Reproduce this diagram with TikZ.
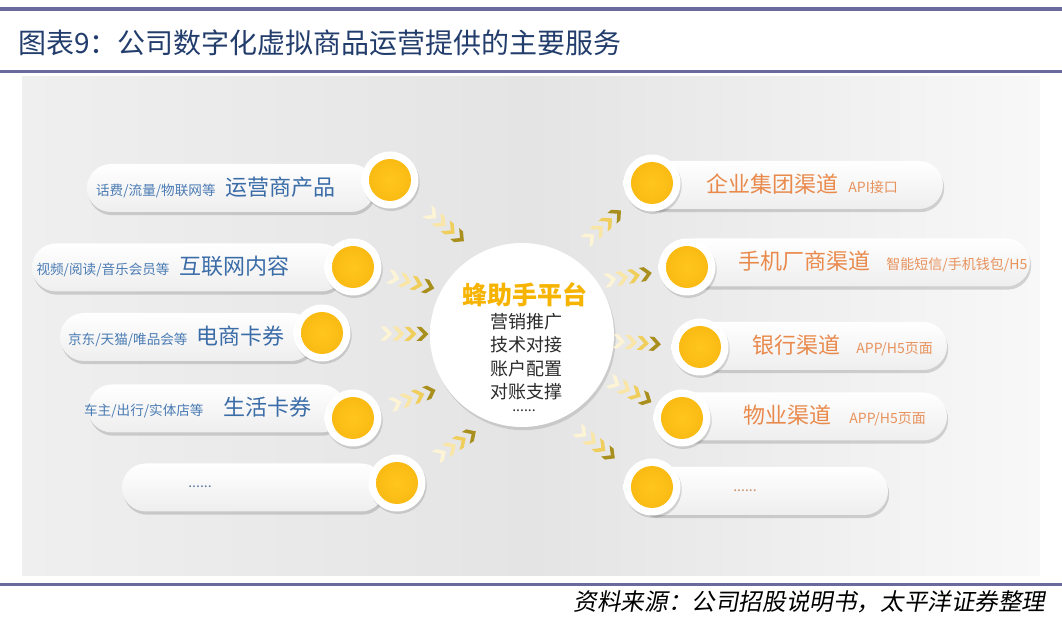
\documentclass[tikz,border=0pt]{standalone}
\usepackage{fontspec}
\setmainfont{Noto Sans CJK SC}
\newfontfamily\srcfont[FakeSlant=0.18]{Noto Sans CJK SC}
\usepackage{xcolor}
\usepackage{tikz}
\usetikzlibrary{shadows,decorations.markings}
\definecolor{rule}{HTML}{6A6A9C}
\definecolor{headblue}{HTML}{223D6C}
\definecolor{panelmid}{HTML}{E4E4E4}
\definecolor{panelleft}{HTML}{EFEFEF}
\definecolor{panelright}{HTML}{F8F8F8}
\definecolor{pillbot}{HTML}{EEEEEE}
\definecolor{ringrim}{HTML}{D6D6D6}
\definecolor{hubrim}{HTML}{D8D8D8}
\definecolor{balltop}{HTML}{FFC61E}
\definecolor{ballrim}{HTML}{F1A800}
\definecolor{leftblue}{HTML}{3A6CA8}
\definecolor{leftsub}{HTML}{4A7BB4}
\definecolor{rightorg}{HTML}{E98A4C}
\definecolor{rightsub}{HTML}{E8925C}
\definecolor{hubgold}{HTML}{F6B400}
\definecolor{hubink}{HTML}{2B2B2B}
\definecolor{chva}{HTML}{FDF4D6}
\definecolor{chvb}{HTML}{F9E6A6}
\definecolor{chvc}{HTML}{F0CE5C}
\definecolor{chvd}{HTML}{A88F1E}
\pgfdeclareradialshading{ringsh}{\pgfpoint{0bp}{0bp}}{color(0bp)=(white); color(36bp)=(white); color(50bp)=(ringrim)}
\pgfdeclareradialshading{hubsh}{\pgfpoint{0bp}{0bp}}{color(0bp)=(white); color(40bp)=(white); color(50bp)=(hubrim)}
\pgfdeclareradialshading{ballsh}{\pgfpoint{0bp}{0bp}}{color(0bp)=(balltop); color(50bp)=(ballrim)}
\newcommand{\ltag}[1]{{\fontsize{6.8pt}{8pt}\selectfont\color{leftsub}#1}}
\newcommand{\rtag}[1]{{\fontsize{7pt}{8pt}\selectfont\color{rightsub}#1}}
\newcommand{\chev}[2]{\fill[#2] ({#1-7},-7) -- (#1,0) -- ({#1-7},7) -- ({#1-12},7) -- ({#1-5},0) -- ({#1-12},-7) -- cycle;}
\newcommand{\chevs}{\chev{-12}{chva}\chev{0}{chvb}\chev{12}{chvc}\chev{24}{chvd}}
\tikzset{
  every node/.style={inner sep=0pt},
  pill/.style={rounded corners=12pt,minimum height=24pt,top color=white,bottom color=pillbot,
               drop shadow={shadow xshift=.6pt,shadow yshift=-1.6pt,opacity=.22,fill=black!70}},
  knob/.style={circle,minimum size=28.5pt,shade,shading=ringsh,
               drop shadow={shadow xshift=.6pt,shadow yshift=-1.2pt,opacity=.2,fill=black!70},
               path picture={\shade[shading=ballsh] (path picture bounding box.center) circle (10.5pt);}},
  hubdisc/.style={circle,minimum size=92pt,shade,shading=hubsh,
               drop shadow={shadow xshift=.8pt,shadow yshift=-1.6pt,opacity=.18,fill=black!70}},
  ltxt/.style={font=\fontsize{11pt}{13pt}\selectfont,text=leftblue,anchor=base east},
  rtxt/.style={font=\fontsize{11pt}{13pt}\selectfont,text=rightorg,anchor=base west},
  dots/.style={font=\fontsize{7pt}{8pt}\selectfont},
  flow/.style={postaction={decorate,decoration={markings,mark=at position #1 with {\chevs}}}},
  flow/.default=.5,
}
\begin{document}
\begin{tikzpicture}[x=0.5pt,y=-0.5pt]
\useasboundingbox (0,0) rectangle (1062,624);
% header
\draw[rule,line width=2pt] (0,9) -- (1062,9);
\node[anchor=west,font=\fontsize{14pt}{17pt}\selectfont,text=headblue] (title) at (18,43) {图表9：公司数字化虚拟商品运营提供的主要服务};
\draw[rule,line width=1.5pt] (0,71.5) -- (1062,71.5);

% panel
\shade[left color=panelleft,right color=panelright,middle color=panelmid] (22,77) rectangle (1040,576);

% products (left)
\node[pill,minimum width=144pt] (lp1) at (231,188) {};
\node[pill,minimum width=156.5pt] (lp2) at (188.5,267.5) {};
\node[pill,minimum width=127.5pt] (lp3) at (187.5,337) {};
\node[pill,minimum width=128.5pt] (lp4) at (216.5,408.5) {};
\node[pill,minimum width=131.5pt] (lp5) at (253.5,487.5) {};
\node[ltxt] (lt1) at (336,196) {\ltag{话费/流量/物联网等}\hspace{5pt}运营商产品};
\node[ltxt] (lt2) at (290,275) {\ltag{视频/阅读/音乐会员等}\hspace{5pt}互联网内容};
\node[ltxt] (lt3) at (285,345) {\ltag{京东/天猫/唯品会等}\hspace{4.5pt}电商卡券};
\node[ltxt] (lt4) at (312,416) {\ltag{车主/出行/实体店等}\hspace{10pt}生活卡券};
\node[dots,text=leftsub!70!gray] (lt5) at (200,487) {......};
\node[knob] (lc1) at (390,180) {};
\node[knob] (lc2) at (353,267) {};
\node[knob] (lc3) at (322,333) {};
\node[knob] (lc4) at (353,418) {};
\node[knob] (lc5) at (397,483) {};

% channels (right)
\node[pill,minimum width=154pt] (rp1) at (789,185) {};
\node[pill,minimum width=180pt] (rp2) at (850,262.5) {};
\node[pill,minimum width=131pt] (rp3) at (816,346) {};
\node[pill,minimum width=141pt] (rp4) at (806,416.5) {};
\node[pill,minimum width=126.5pt] (rp5) at (761.5,491) {};
\node[rtxt] (rt1) at (706,193) {企业集团渠道\hspace{5pt}\rtag{API接口}};
\node[rtxt] (rt2) at (738,270) {手机厂商渠道\hspace{8pt}\rtag{智能短信/手机钱包/H5}};
\node[rtxt] (rt3) at (752,354) {银行渠道\hspace{8pt}\rtag{APP/H5页面}};
\node[rtxt] (rt4) at (743,424) {物业渠道\hspace{9pt}\rtag{APP/H5页面}};
\node[dots,text=rightsub!70!gray] (rt5) at (745,491) {......};
\node[knob] (rc1) at (652,183) {};
\node[knob] (rc2) at (687,267) {};
\node[knob] (rc3) at (700,347) {};
\node[knob] (rc4) at (682,418) {};
\node[knob] (rc5) at (652,487) {};

% platform
\node[hubdisc] (hub) at (522,335) {};
\node[font=\fontsize{12.5pt}{15pt}\selectfont\bfseries,text=hubgold] (hubname) at (525,295) {蜂助手平台};
\node[font=\fontsize{9pt}{11.7pt}\selectfont,text=hubink,align=center,anchor=north] (hubtasks) at (526,313)
  {营销推广\\技术对接\\账户配置\\对账支撑};
\node[dots,text=hubink] (hubmore) at (524,411) {......};

% chevrons
\path[flow] (lc1) -- (hub.118);
\path[flow] (lc2) -- (hub.151);
\path[flow=.68] (lc3) -- (hub);
\path[flow] (lc4) -- (hub.214);
\path[flow] (lc5) -- (hub.250);
\path[flow=.55] (hub.59) -- (rc1);
\path[flow] (hub.35) -- (rc2);
\path[flow=.4] (hub) -- (rc3);
\path[flow] (hub) -- (rc4);
\path[flow] (hub.-64) -- (rc5);

% footer
\draw[rule,line width=1.5pt] (0,584.5) -- (1062,584.5);
\node[anchor=east,font=\srcfont\fontsize{11.8pt}{14pt}\selectfont] (source) at (1046,602) {资料来源：公司招股说明书，太平洋证券整理};
\end{tikzpicture}
\end{document}
